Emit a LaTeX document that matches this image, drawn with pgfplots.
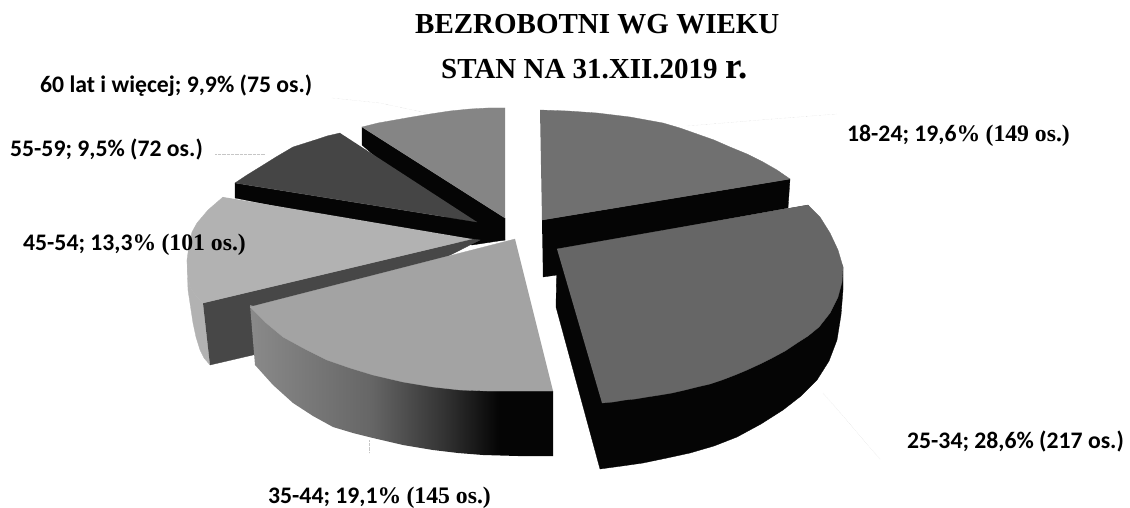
\documentclass[border=0pt]{standalone}
\usepackage{pgfplots}
\usepackage{fontspec}
\pgfplotsset{compat=1.18}
\setmainfont{Carlito}
\newfontfamily\serf{Liberation Serif}
\definecolor{gA}{gray}{0.52}
\definecolor{gB}{gray}{0.27}
\definecolor{gC}{gray}{0.70}
\definecolor{gD}{gray}{0.64}
\definecolor{gE}{gray}{0.40}
\definecolor{gF}{gray}{0.44}
\definecolor{gS}{gray}{0.28}
\definecolor{gK}{gray}{0.02}
\pgfdeclarehorizontalshading{sidegrad}{100bp}{color(0bp)=(black!46);color(25bp)=(black!46);color(45bp)=(black!60);color(57bp)=(black!80);color(66bp)=(black!98);color(100bp)=(black!98)}
\newcommand{\lab}{\fontsize{23.7}{25}\selectfont\bfseries}
\newcommand{\ser}{\serf\fontsize{23.7}{25}\selectfont\bfseries}
\begin{document}
\begin{tikzpicture}
\useasboundingbox (0,0) rectangle (1130pt,508pt);
\begin{axis}[
  at={(0,0)}, anchor=south west,
  scale only axis, width=1130pt, height=508pt,
  xmin=0, xmax=1130, ymin=0, ymax=508, y dir=reverse,
  hide axis, clip=false,
  every axis plot/.append style={forget plot, mark=none, line width=0.3pt},
]
% leader lines
\addplot[gray!45, densely dotted] coordinates {(332,98) (380,103) (427,113)};
\addplot[gray!45, densely dotted] coordinates {(215,154) (265,154)};
\addplot[gray!45, densely dotted] coordinates {(687,126) (760,120) (837,114)};
\addplot[gray!45, densely dotted] coordinates {(823,393) (880,459)};
\addplot[gray!45, densely dotted] coordinates {(369,440) (369,453)};
% 60 lat i wiecej : side, top
\addplot[fill=gK, draw=gK] coordinates {(362,127) (362,145) (472,240) (505,240) (505,218)};
\addplot[fill=gA, draw=gA] coordinates {(505,108) (488,108) (470,109) (450,111) (430,114) (412,117) (395,120) (378,123) (362,127) (505,218)};
% 55-59
\addplot[fill=gK, draw=gK] coordinates {(235,183) (235,198) (472,245) (505,240) (477,222)};
\addplot[fill=gB, draw=gB] coordinates {(340,133) (327,136) (315,140) (293,147) (276,157) (260,167) (247,175) (235,183) (477,222)};
% 18-24
\addplot[fill=gK, draw=gK] coordinates {(542,220) (790,179) (788,208) (557,250) (557,275) (543,277)};
\addplot[fill=gF, draw=gF] coordinates {(540,110) (568,111) (597,113) (630,117) (663,123) (680,128) (697,134) (714,140) (730,147) (747,154) (763,162) (777,170) (790,179) (542,220)};
% 45-54
\addplot[fill=gC, draw=gC] coordinates {(187,260) (188,290) (193,323) (196,337) (200,350) (204,358) (210,365) (203,303) (196,296) (190,287)};
\addplot[fill=gS, draw=gS] coordinates {(203,303) (472,239) (480,240) (253,355) (210,365)};
\addplot[fill=gC, draw=gC] coordinates {(223,197) (208,210) (197,223) (192,232) (189,245) (187,260) (188,275) (190,287) (196,296) (203,303) (472,239)};
% 35-44
\addplot[shading=sidegrad, draw=none] coordinates {(250,305) (255,365) (273,385) (293,403) (313,416) (333,427) (353,433) (373,438) (403,445) (433,450) (458,453) (483,455) (518,456) (553,456) (553,391)};
\addplot[fill=gD, draw=gD] coordinates {(515,239) (250,307) (265,322) (283,337) (305,349) (327,360) (350,368) (373,375) (403,382) (433,387) (460,390) (487,391) (553,391)};
% 25-34
\addplot[fill=gK, draw=gK] coordinates {(557,249) (556,307) (600,469) (622,466) (643,463) (667,458) (690,453) (714,446) (737,437) (761,424) (783,410) (801,396) (817,380) (829,361) (837,340) (841,315) (843,290) (843,267) (808,205)};
\addplot[fill=gE, draw=gE] coordinates {(557,249) (808,205) (820,217) (830,233) (838,250) (843,267) (842,282) (838,297) (830,313) (819,327) (808,336) (797,343) (785,351) (772,358) (760,364) (747,370) (735,375) (722,380) (710,384) (697,387) (685,390) (672,393) (660,395) (647,397) (635,399) (625,400) (613,402) (602,403)};
% labels
\node[anchor=base west, inner sep=0pt] at (axis cs:415,34) {\serf\fontsize{29}{30}\selectfont\bfseries BEZROBOTNI WG WIEKU};
\node[anchor=base west, inner sep=0pt] at (axis cs:441,79) {\serf\fontsize{29}{30}\selectfont\bfseries STAN NA 31.XII.2019 {\fontsize{37}{37}\selectfont r.}};
\node[anchor=base west, inner sep=0pt] at (axis cs:40,93) {\lab 60 lat i więcej; 9,9\% (75 os.)};
\node[anchor=base west, inner sep=0pt] at (axis cs:10,157) {\lab 55-59; 9,5\% (72 os.)};
\node[anchor=base west, inner sep=0pt] at (axis cs:23,250) {\lab 45-54; 13,3{\ser\%} {\ser(101 os.)}};
\node[anchor=base west, inner sep=0pt] at (axis cs:847,142) {\lab 18-24; 19,6{\ser\%} {\ser(149 os.)}};
\node[anchor=base west, inner sep=0pt] at (axis cs:907,448) {\lab 25-34; 28,6\% (217 os.)};
\node[anchor=base west, inner sep=0pt] at (axis cs:268,503) {\lab 35-44; 19,1{\ser\%} {\ser(145 os.)}};
\end{axis}
\end{tikzpicture}
\end{document}
